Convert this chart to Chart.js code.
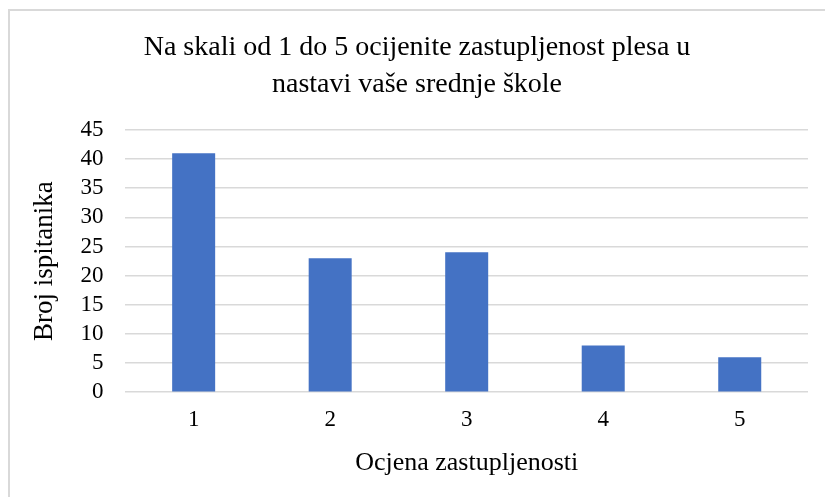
<!DOCTYPE html>
<html>
<head>
<meta charset="utf-8">
<script src="https://cdn.jsdelivr.net/npm/chart.js@4.4.1/dist/chart.umd.min.js"></script>
<style>
  html, body { margin: 0; padding: 0; background: #ffffff; overflow: hidden; }
  #frame {
    position: absolute; left: 8px; top: 9px; width: 900px; height: 600px;
    border-top: 2px solid #d9d9d9; border-left: 2px solid #d9d9d9;
  }
  #wrap { position: absolute; left: 0; top: 0; width: 825px; height: 497px; }
</style>
</head>
<body>
<div id="frame"></div>
<div id="wrap"><canvas id="chart" width="825" height="497"></canvas></div>
<script>
// Data
const ocjene = ['1', '2', '3', '4', '5'];
const brojIspitanika = [41, 23, 24, 8, 6];
const naslov = ['Na skali od 1 do 5 ocijenite zastupljenost plesa u', 'nastavi vaše srednje škole'];
const yMax = 45;
const yStep = 5;

const serif = "'Liberation Serif', 'Times New Roman', serif";
const gridColor = '#d9d9d9';

document.addEventListener('DOMContentLoaded', function() {
    const ctx = document.getElementById('chart').getContext('2d');
    new Chart(ctx, {
        type: 'bar',
        data: {
            labels: ocjene,
            datasets: [{
                label: 'Broj ispitanika',
                data: brojIspitanika,
                backgroundColor: '#4472c4',
                borderWidth: 0,
                categoryPercentage: 1,
                barPercentage: 0.315
            }]
        },
        options: {
            responsive: false,
            animation: false,
            layout: { padding: { top: 29, right: 17, bottom: 18, left: 26 } },
            plugins: {
                legend: { display: false },
                tooltip: { enabled: false },
                title: {
                    display: true,
                    text: naslov,
                    color: '#000000',
                    font: { family: serif, size: 28, weight: 'normal', lineHeight: 1.32 },
                    padding: { top: 0, bottom: 27 }
                }
            },
            scales: {
                x: {
                    grid: { display: false, drawTicks: false },
                    border: { display: false },
                    ticks: {
                        color: '#000000',
                        font: { family: serif, size: 23 },
                        padding: 14
                    },
                    title: {
                        display: true,
                        text: 'Ocjena zastupljenosti',
                        color: '#000000',
                        font: { family: serif, size: 26 },
                        padding: { top: 0, bottom: 0 }
                    }
                },
                y: {
                    min: 0,
                    max: yMax,
                    grid: { color: gridColor, lineWidth: 1.5, drawTicks: false },
                    border: { display: false },
                    ticks: {
                        stepSize: yStep,
                        autoSkip: false,
                        color: '#000000',
                        font: { family: serif, size: 23 },
                        padding: 22
                    },
                    title: {
                        display: true,
                        text: 'Broj ispitanika',
                        color: '#000000',
                        font: { family: serif, size: 27 },
                        padding: { top: 3, bottom: -3 }
                    }
                }
            }
        }
    });
});
</script>
</body>
</html>
